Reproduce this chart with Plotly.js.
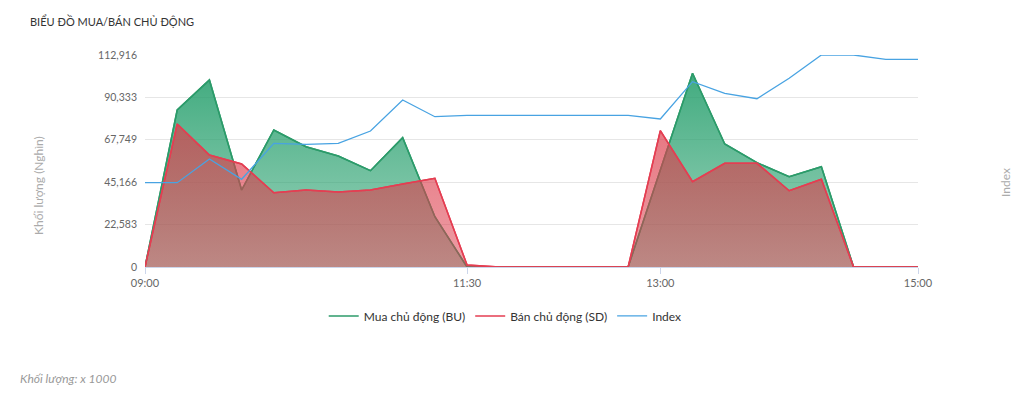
<!DOCTYPE html>
<html>
<head>
<meta charset="utf-8">
<script src="https://cdn.plot.ly/plotly-3.0.1.min.js"></script>
<style>
  html, body { margin: 0; padding: 0; background: #fff; }
  #chart { width: 1024px; height: 393px; }
</style>
</head>
<body>
<div id="chart"></div>
<script>
// ---- Data ----
const times = [
  "09:00","09:15","09:30","09:45","10:00","10:15","10:30","10:45","11:00","11:15",
  "11:30","11:45","12:00","12:15","12:30","12:45","13:00","13:15","13:30","13:45",
  "14:00","14:15","14:30","14:45","15:00"
];
// Mua chủ động (BU), volume x1000
const buyVolume = [
  0, 83620, 99600, 41010, 72970, 64080, 59120, 51300, 68870, 26800,
  0, 0, 0, 0, 0, 0, 51660, 103170, 65510, 55550,
  48100, 53420, 0, 0, 0
];
// Bán chủ động (SD), volume x1000
const sellVolume = [
  0, 76170, 59650, 54860, 39580, 41010, 39950, 41010, 44210, 47240,
  1000, 0, 0, 0, 0, 0, 72600, 45430, 55230, 55230,
  40640, 46710, 0, 0, 0
];
// Index (no scale shown on its axis; read in left-axis units)
const indexValues = [
  44900, 44900, 57520, 46710, 65890, 65350, 65890, 72440, 88950, 80050,
  80800, 80800, 80800, 80800, 80800, 80800, 78830, 98700, 92520, 89640,
  100500, 112916, 112916, 110630, 110630
];
const yTicks = [0, 22583, 45166, 67749, 90333, 112916];
const xTicks = ["09:00", "11:30", "13:00", "15:00"];

const GREEN = "rgb(44,155,106)";
const RED = "rgb(228,62,82)";
const BLUE = "rgb(72,163,226)";

const traces = [
  { // green area
    x: times, y: buyVolume, type: "scatter", mode: "lines",
    fill: "tozeroy", line: { color: GREEN, width: 1.5 },
    fillgradient: { type: "vertical",
      colorscale: [[0, "rgba(40,160,110,0.45)"], [1, "rgba(40,160,110,0.88)"]] },
    name: "Mua chủ động (BU)", showlegend: false, hoverinfo: "skip"
  },
  { // green outline (legend entry)
    x: times, y: buyVolume, type: "scatter", mode: "lines",
    line: { color: GREEN, width: 1.5 }, name: "Mua chủ động (BU)"
  },
  { // red area
    x: times, y: sellVolume, type: "scatter", mode: "lines",
    fill: "tozeroy", line: { color: RED, width: 1.5 },
    fillgradient: { type: "vertical",
      colorscale: [[0, "rgba(220,60,75,0.5)"], [1, "rgba(220,60,75,0.7)"]] },
    name: "Bán chủ động (SD)", showlegend: false, hoverinfo: "skip"
  },
  { // red outline (legend entry)
    x: times, y: sellVolume, type: "scatter", mode: "lines",
    line: { color: RED, width: 1.5 }, name: "Bán chủ động (SD)"
  },
  { x: times, y: indexValues, type: "scatter", mode: "lines", yaxis: "y2",
    line: { color: BLUE, width: 1.3 }, name: "Index" }
];

const layout = {
  width: 1024, height: 393,
  margin: { l: 145, r: 106, t: 55, b: 126 },
  paper_bgcolor: "#fff", plot_bgcolor: "#fff",
  font: { family: "Lato, 'Open Sans', sans-serif", size: 11, color: "#666" },
  title: {
    text: "BIỂU ĐỒ MUA/BÁN CHỦ ĐỘNG",
    xref: "container", yref: "container",
    x: 30 / 1024, xanchor: "left", y: 1 - 22 / 393, yanchor: "middle",
    font: { size: 11, color: "#333" }
  },
  xaxis: {
    type: "category", range: [0, 24],
    tickmode: "array", tickvals: xTicks, ticktext: xTicks,
    showgrid: false, zeroline: false,
    showline: true, linecolor: "#ccd6eb", linewidth: 1,
    ticks: "outside", ticklen: 6, tickcolor: "#ccd6eb",
    tickfont: { size: 11, color: "#666" }
  },
  yaxis: {
    range: [0, 112916], tickmode: "array",
    tickvals: yTicks, ticktext: yTicks.map(v => v.toLocaleString("en-US")),
    showgrid: true, gridcolor: "#e6e6e6", gridwidth: 1,
    zeroline: false, showline: false, ticks: "", ticklabelstandoff: 7,
    tickfont: { size: 10.5, color: "#666" }
  },
  yaxis2: {
    overlaying: "y", side: "right", range: [0, 112916],
    showgrid: false, zeroline: false, showticklabels: false, showline: false
  },
  showlegend: true,
  legend: {
    orientation: "h", x: 0.466, xanchor: "center", y: -0.231, yanchor: "middle",
    font: { size: 12, color: "#333" }, bgcolor: "rgba(0,0,0,0)"
  },
  annotations: [
    { text: "Khối lượng (Nghìn)", xref: "paper", yref: "paper",
      x: (38 - 145) / 773, xanchor: "center", y: (267 - 185) / 212, yanchor: "middle",
      textangle: -90, showarrow: false, font: { size: 12, color: "#aaa" } },
    { text: "Index", xref: "paper", yref: "paper",
      x: (1005 - 145) / 773, xanchor: "center", y: (267 - 183) / 212, yanchor: "middle",
      textangle: -90, showarrow: false, font: { size: 12, color: "#aaa" } },
    { text: "<i>Khối lượng: x 1000</i>", xref: "paper", yref: "paper",
      x: (18 - 145) / 773, xanchor: "left", y: (267 - 378) / 212, yanchor: "middle",
      showarrow: false, font: { size: 12, color: "#999" } }
  ]
};

Plotly.newPlot("chart", traces, layout, { displayModeBar: false, staticPlot: true });
</script>
</body>
</html>
